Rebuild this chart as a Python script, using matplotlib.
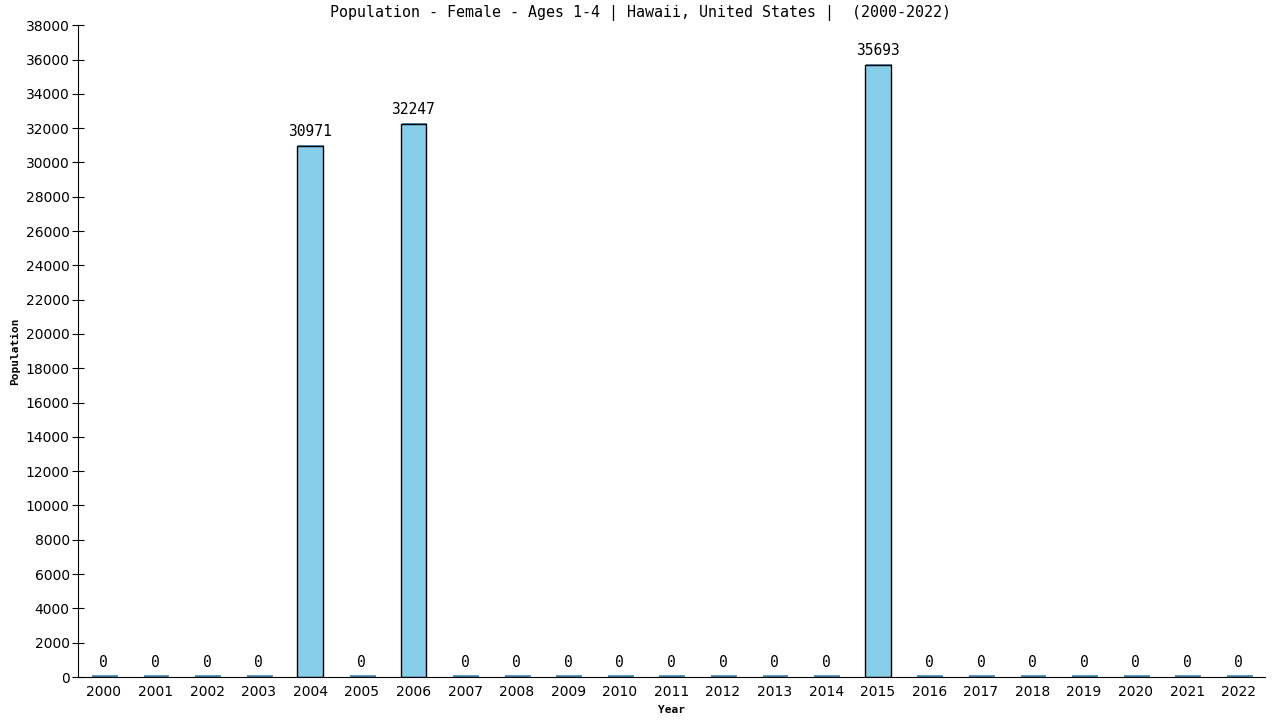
import numpy as np
import matplotlib
matplotlib.use('Agg')
import matplotlib.pyplot as plt

years = [str(y) for y in range(2000, 2023)]
population = [0, 0, 0, 0, 30971, 0, 32247, 0, 0, 0, 0, 0, 0, 0, 0,
              35693, 0, 0, 0, 0, 0, 0, 0]
yticks = list(range(0, 38001, 2000))

fig = plt.figure(figsize=(12.8, 7.2), dpi=100)
ax = fig.add_axes([0.061, 0.0597, 0.927, 0.9053])

x = np.arange(len(years))
vals = np.array(population)

# faint shadow behind bars, also shows as a thin line for the zero bars
shadow = np.where(vals > 0, vals + 60, 110)
ax.bar(x + 0.02, shadow, width=0.5, color='#5a9cc4', zorder=1)
ax.bar(x, vals, width=0.5, color='#87ceeb', edgecolor='black', linewidth=1.0, zorder=2)

for xi, v in zip(x, vals):
    ax.annotate(str(v), (xi, v), xytext=(0, 5), textcoords='offset points',
                ha='center', va='bottom', family='DejaVu Sans Mono', fontsize=10.5)

ax.set_xlim(-0.5, len(years) - 0.5)
ax.set_ylim(0, 38000)
ax.set_xticks(x)
ax.set_xticklabels(years, fontsize=10)
ax.set_yticks(yticks)
ax.set_yticklabels([str(t) for t in yticks], fontsize=10)
ax.tick_params(axis='x', length=0, pad=6)
ax.tick_params(axis='y', direction='inout', length=8, pad=2)

for s in ['top', 'right']:
    ax.spines[s].set_visible(False)

ax.set_xlabel('Year', family='DejaVu Sans Mono', fontweight='bold', fontsize=8, labelpad=4)
ax.set_ylabel('Population', family='DejaVu Sans Mono', fontweight='bold', fontsize=8, labelpad=4)
fig.text(0.5, 0.982, 'Population - Female - Ages 1-4 | Hawaii, United States |  (2000-2022)',
         ha='center', va='center', family='DejaVu Sans Mono', fontsize=10.8)

fig.savefig('out.png', dpi=100)
